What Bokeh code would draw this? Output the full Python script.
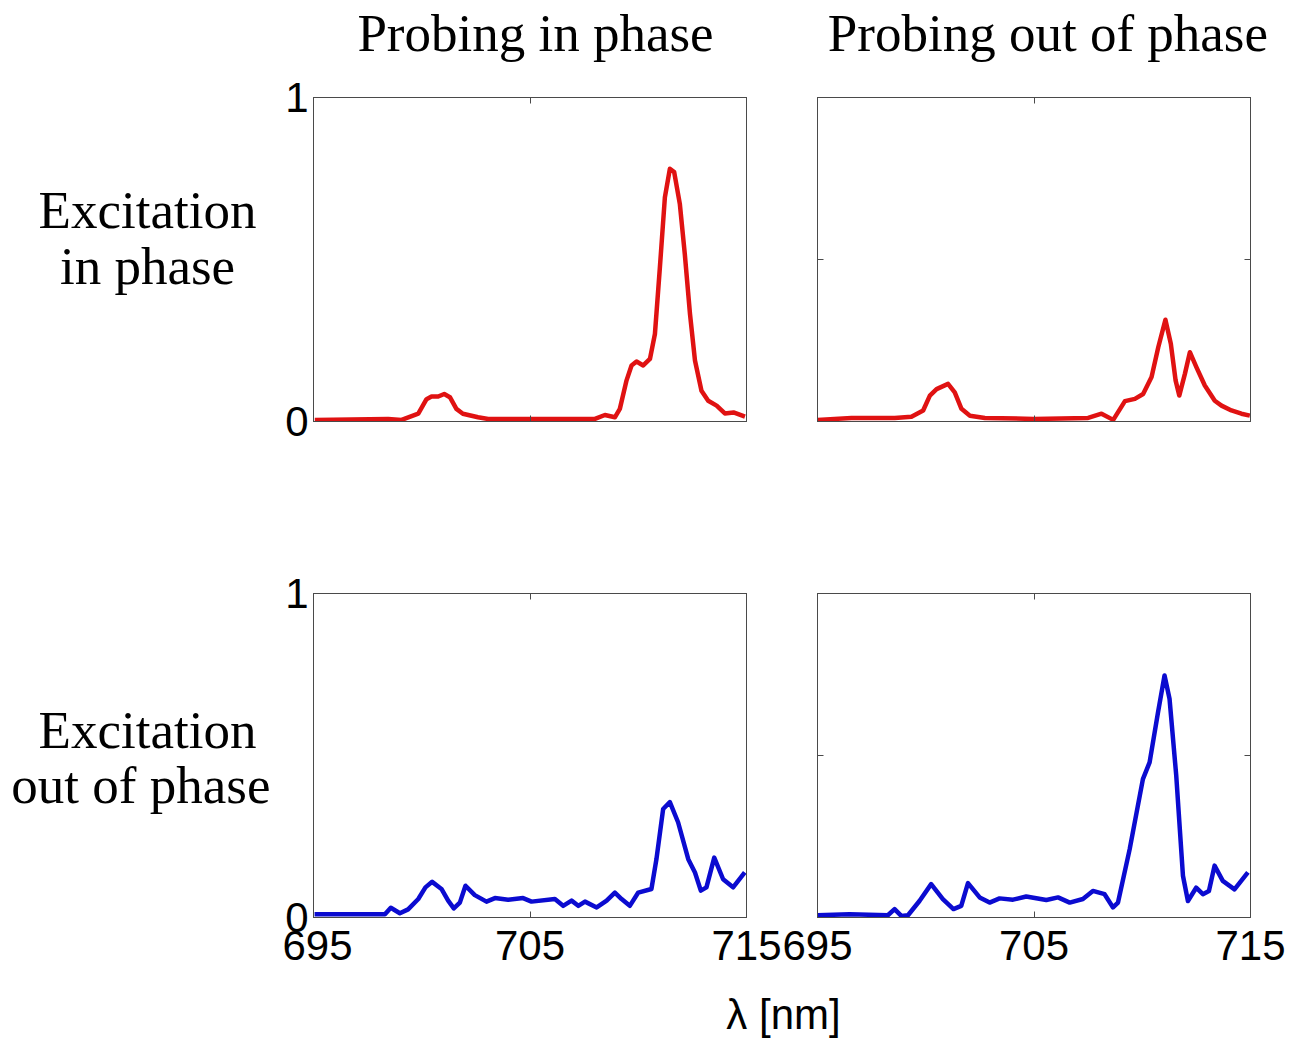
from bokeh.plotting import figure
from bokeh.models import Range1d, LinearAxis, FixedTicker, Label
from bokeh.layouts import column, row
from bokeh.embed import file_html
from bokeh.resources import INLINE

# ---------------- data ----------------
x_ticks = [695, 705, 715]
col_titles = ["Probing in phase", "Probing out of  phase"]
row_titles = [["Excitation", "in phase"], ["Excitation", "out of  phase"]]
x_label = "λ [nm]"

# Excitation in phase / probing in phase (red)
lam_tl = [695.06, 698.45, 699.07, 699.84, 700.22, 700.45, 700.76, 701.04, 701.3, 701.6,
          701.9, 702.6, 703.07, 705.2, 708.0, 708.46, 708.92, 709.15, 709.46, 709.69,
          709.92, 710.23, 710.54, 710.77, 711.0, 711.23, 711.46, 711.66, 711.92, 712.15,
          712.39, 712.62, 712.92, 713.23, 713.62, 714.0, 714.4, 714.93]
val_tl = [0.005, 0.008, 0.005, 0.024, 0.069, 0.077, 0.077, 0.085, 0.075, 0.039,
          0.024, 0.013, 0.008, 0.008, 0.008, 0.020, 0.013, 0.039, 0.127, 0.173,
          0.185, 0.173, 0.193, 0.270, 0.476, 0.692, 0.780, 0.770, 0.672, 0.517,
          0.332, 0.188, 0.095, 0.064, 0.049, 0.025, 0.028, 0.015]

# Excitation in phase / probing out of phase (red)
lam_tr = [695.0, 696.57, 698.57, 699.34, 699.88, 700.19, 700.5, 701.03, 701.34, 701.65,
          702.04, 702.73, 705.0, 707.5, 708.12, 708.66, 709.2, 709.66, 710.04, 710.43,
          710.74, 711.07, 711.32, 711.54, 711.71, 711.97, 712.2, 712.5, 712.89, 713.35,
          713.66, 714.12, 714.58, 714.97]
val_tr = [0.005, 0.011, 0.011, 0.015, 0.034, 0.080, 0.100, 0.116, 0.090, 0.039,
          0.018, 0.011, 0.008, 0.011, 0.024, 0.005, 0.063, 0.070, 0.085, 0.137,
          0.229, 0.314, 0.240, 0.127, 0.080, 0.147, 0.214, 0.168, 0.111, 0.064,
          0.049, 0.034, 0.024, 0.018]

# Excitation out of phase / probing in phase (blue)
lam_bl = [695.05, 696.76, 698.30, 698.57, 698.99, 699.37, 699.84, 700.17, 700.48, 700.91,
          701.22, 701.48, 701.76, 702.02, 702.45, 702.99, 703.38, 703.99, 704.68, 705.07,
          706.15, 706.53, 706.92, 707.23, 707.54, 708.08, 708.54, 708.92, 709.23, 709.61,
          710.0, 710.61, 710.84, 711.15, 711.46, 711.84, 712.31, 712.62, 712.89, 713.15,
          713.51, 713.92, 714.38, 714.92]
val_bl = [0.010, 0.010, 0.010, 0.030, 0.013, 0.025, 0.057, 0.093, 0.110, 0.088,
          0.052, 0.028, 0.046, 0.098, 0.069, 0.049, 0.060, 0.055, 0.060, 0.049,
          0.057, 0.036, 0.052, 0.036, 0.049, 0.031, 0.052, 0.077, 0.057, 0.036,
          0.077, 0.088, 0.180, 0.335, 0.356, 0.294, 0.180, 0.139, 0.083, 0.093,
          0.185, 0.118, 0.093, 0.139]

# Excitation out of phase / probing out of phase (blue)
lam_br = [695.0, 696.48, 698.25, 698.56, 698.87, 699.18, 699.71, 700.25, 700.79, 701.28,
          701.64, 701.95, 702.49, 702.95, 703.41, 704.03, 704.64, 705.57, 706.11, 706.65,
          707.26, 707.72, 708.26, 708.65, 708.88, 709.42, 710.03, 710.34, 710.73, 711.03,
          711.26, 711.57, 711.88, 712.11, 712.49, 712.8, 713.08, 713.34, 713.72, 714.26,
          714.88]
val_br = [0.007, 0.010, 0.007, 0.026, 0.005, 0.007, 0.051, 0.103, 0.057, 0.026,
          0.036, 0.106, 0.062, 0.046, 0.059, 0.055, 0.065, 0.054, 0.062, 0.046,
          0.057, 0.082, 0.072, 0.031, 0.046, 0.211, 0.427, 0.479, 0.634, 0.747,
          0.675, 0.438, 0.129, 0.051, 0.092, 0.072, 0.082, 0.160, 0.113, 0.087,
          0.139]

RED = "#e01212"
BLUE = "#0b0bd0"
FRAME = "#4a4a4a"
SANS = "Liberation Sans"
SERIF = "Liberation Serif"

LABEL_W = 282          # width of the row-title strip at the left
TITLE_H = 70           # height of the column-title strip
XLAB_H = 55            # height of the x-title strip
FRAME_W, FRAME_H = 433, 324
MID = 17.5             # baseline offset below a "middle" anchor for the 53px serif

TOP_BORDER = (97 - TITLE_H, 93)
BOTTOM_BORDER = (79, 68)
FRAME_BOTTOM = (421, 917)   # page y of the frame bottoms


def style_axis(ax, show_labels, ticks):
    ax.ticker = FixedTicker(ticks=ticks)
    ax.axis_line_color = FRAME
    ax.major_tick_line_color = FRAME
    ax.major_tick_in = 6
    ax.major_tick_out = 0
    ax.minor_tick_in = 0
    ax.minor_tick_out = 0
    ax.major_label_text_font = SANS
    if show_labels:
        ax.major_label_text_font_size = "42px"
        ax.major_label_text_color = "black"
    else:
        ax.major_label_text_font_size = "10px"
        ax.major_label_text_color = None
        ax.major_label_standoff = 0


def panel(lam, val, color, left, right, r, y_labels, x_labels, y_ticks):
    p = figure(frame_width=FRAME_W, frame_height=FRAME_H,
               x_range=Range1d(695, 715), y_range=Range1d(0, 1),
               min_border_left=left, min_border_right=right,
               min_border_top=TOP_BORDER[r], min_border_bottom=BOTTOM_BORDER[r],
               toolbar_location=None, tools="", output_backend="svg")
    p.background_fill_color = "white"
    p.border_fill_color = "white"
    p.outline_line_color = FRAME
    p.grid.visible = False
    p.add_layout(LinearAxis(), "above")
    p.add_layout(LinearAxis(), "right")
    for ax in p.xaxis:
        style_axis(ax, False, x_ticks)
    for ax in p.yaxis:
        style_axis(ax, False, y_ticks)
    if x_labels:
        style_axis(p.below[0], True, x_ticks)
        p.below[0].major_label_standoff = 13
    if y_labels:
        style_axis(p.left[0], True, y_ticks)
        p.left[0].major_label_standoff = 5
    p.line(lam, val, line_color=color, line_width=4.5, line_join="round")
    return p


def strip(width, height):
    s = figure(width=width, height=height, x_range=Range1d(0, width), y_range=Range1d(0, height),
               min_border=0, toolbar_location=None, tools="", output_backend="svg",
               x_axis_location=None, y_axis_location=None)
    s.grid.visible = False
    s.outline_line_color = None
    s.background_fill_color = "white"
    s.border_fill_color = "white"
    return s


def row_strip(r):
    # same vertical borders and frame as the panels of that row, y in frame fractions
    s = figure(frame_width=LABEL_W, frame_height=FRAME_H,
               x_range=Range1d(0, LABEL_W), y_range=Range1d(0, 1),
               min_border_left=0, min_border_right=0,
               min_border_top=TOP_BORDER[r], min_border_bottom=BOTTOM_BORDER[r],
               toolbar_location=None, tools="", output_backend="svg",
               x_axis_location=None, y_axis_location=None)
    s.grid.visible = False
    s.outline_line_color = None
    s.background_fill_color = "white"
    s.border_fill_color = "white"
    return s


def add_text(s, x, y, text, size, font):
    s.add_layout(Label(x=x, y=y, text=text, text_font=font, text_font_size=size,
                       text_align="center", text_baseline="middle", text_color="black"))


def frac(r, baseline_y):
    # page baseline -> fraction of the row's frame height for a "middle" anchor
    return (FRAME_BOTTOM[r] - (baseline_y - MID)) / FRAME_H


# panels
p_tl = panel(lam_tl, val_tl, RED, 312 - LABEL_W, 35, 0, True, False, [0, 1])
p_tr = panel(lam_tr, val_tr, RED, 36, 41, 0, False, False, [0, 0.5, 1])
p_bl = panel(lam_bl, val_bl, BLUE, 312 - LABEL_W, 35, 1, True, True, [0, 1])
p_br = panel(lam_br, val_br, BLUE, 36, 41, 1, False, True, [0, 0.5, 1])

# column titles (baseline at y=50 of the page)
s_top = strip(1290, TITLE_H)
add_text(s_top, 535, TITLE_H - 50 + MID, col_titles[0], "53px", SERIF)
add_text(s_top, 1054, TITLE_H - 50 + MID, col_titles[1], "53px", SERIF)

# row titles
s_r1 = row_strip(0)
add_text(s_r1, 147, frac(0, 227), row_titles[0][0], "53px", SERIF)
add_text(s_r1, 147, frac(0, 283), row_titles[0][1], "53px", SERIF)
s_r2 = row_strip(1)
add_text(s_r2, 147, frac(1, 747), row_titles[1][0], "53px", SERIF)
add_text(s_r2, 147, frac(1, 802), row_titles[1][1], "53px", SERIF)

# x-axis title strip
s_x = strip(1290, XLAB_H)
s_x.add_layout(Label(x=783, y=26, text=x_label, text_font=SANS, text_font_size="42px",
                     text_align="center", text_baseline="middle", text_color="black"))

layout = column(s_top, row(s_r1, p_tl, p_tr), row(s_r2, p_bl, p_br), s_x)

open("out.html", "w").write(file_html(layout, INLINE))
